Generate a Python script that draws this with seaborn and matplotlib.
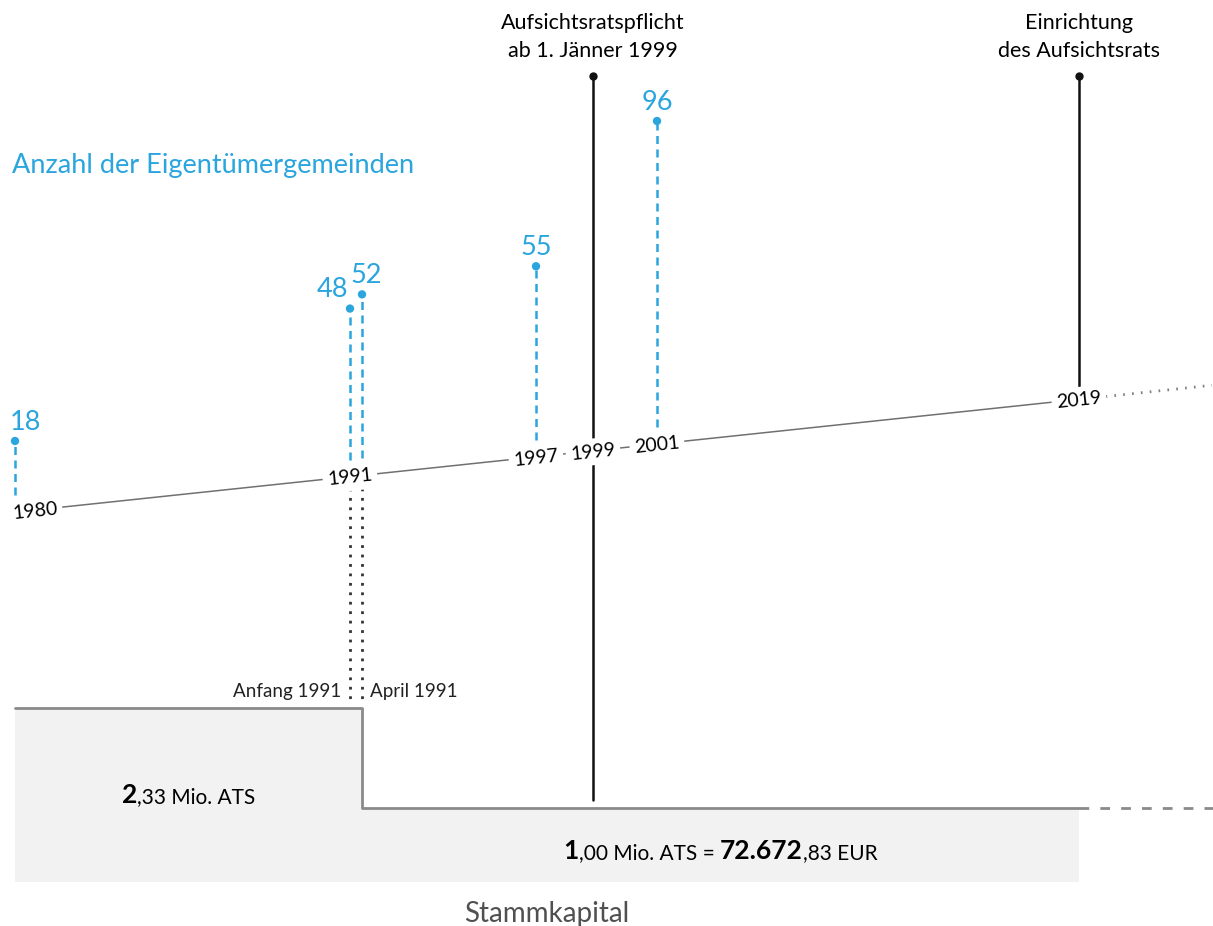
import numpy as np
import pandas as pd
import seaborn as sns
import matplotlib.pyplot as plt
from matplotlib import transforms
from matplotlib.offsetbox import TextArea, HPacker, AnnotationBbox

# --- data -------------------------------------------------------------
count_dates = [1980.0, 1991.0, 1991.25, 1997.0, 2001.0]   # Anfang / April 1991
count_values = [18, 48, 52, 55, 96]
timeline_years = [1980, 1991, 1997, 1999, 2001, 2019]
cap_dates = [1980.0, 1991.25, 2019.0]
cap_values = [2.33, 1.00, 1.00]          # Mio. ATS
event_dates = [1999.0, 2019.0]
event_labels = ["Aufsichtsratspflicht\nab 1. Jänner 1999", "Einrichtung\ndes Aufsichtsrats"]
cap_text_1 = [("2", True), (",33 Mio. ATS", False)]
cap_text_2 = [("1", True), (",00 Mio. ATS = ", False), ("72.672", True), (",83 EUR", False)]

# --- layout -----------------------------------------------------------
W, H = 1213, 926
BLUE = "#2aa5de"
GREY = "#8a8a8a"
# stretched time axis (years -> pixel column)
AY = [1979.3, 1980, 1991, 1991.25, 1997, 1999, 2001, 2019, 2023.4]
AX = [0, 15, 350, 362, 536, 593, 657, 1079, 1213]


def fwd(y):
    return np.interp(y, AY, AX)


def inv(p):
    return np.interp(p, AX, AY)


def line_px(x):
    # tilted time line, pixel row for pixel column
    return 510 - 0.106 * (x - 35)


def fy(px):
    return 1 - px / H


PX_PER_MIO = 74.5
PX_PER_COUNT = 3.23

sns.set_theme(style="white")
plt.rcParams["font.family"] = ["Lato", "DejaVu Sans"]

fig = plt.figure(figsize=(W / 100, H / 100), dpi=100)
ax = fig.add_axes([0, 0, 1, 1])
ax2 = ax.twinx()
bt = transforms.blended_transform_factory(ax.transData, ax.transAxes)

# --- Stammkapital -----------------------------------------------------
ax.fill_between(cap_dates, cap_values, step="post", color="#f2f2f2", lw=0, zorder=1)
sns.lineplot(x=cap_dates, y=cap_values, drawstyle="steps-post", estimator=None,
             sort=False, color=GREY, lw=2, ax=ax, zorder=2)
ax.plot([cap_dates[-1], AY[-1]], [cap_values[-1]] * 2, color=GREY, lw=2,
        ls=(0, (3.5, 4)), zorder=2)


def rich(parts, x, y):
    boxes = [TextArea(t, textprops=dict(size=19 if b else 15,
                                         fontweight="bold" if b else "normal",
                                         color="black")) for t, b in parts]
    pack = HPacker(children=boxes, align="baseline", pad=0, sep=0)
    ax.add_artist(AnnotationBbox(pack, (x, y), xycoords="data", frameon=False,
                                 box_alignment=(0.5, 0.5), zorder=5))


rich(cap_text_1, inv((fwd(cap_dates[0]) + fwd(cap_dates[1])) / 2), cap_values[0] / 2)
rich(cap_text_2, inv((fwd(cap_dates[1]) + fwd(cap_dates[2])) / 2), cap_values[1] / 2 - 0.08)
ax.annotate("Stammkapital", (inv((fwd(cap_dates[0]) + fwd(cap_dates[2])) / 2), 0),
            xytext=(0, -23), textcoords="offset points", ha="center", va="center",
            size=20, color="#505050")

# dotted markers for Anfang / April 1991
for d, lab, ha, dx in [(count_dates[1], "Anfang 1991", "right", -6),
                       (count_dates[2], "April 1991", "left", 6)]:
    ax.plot([d, d], [fy(488), fy(704)], transform=bt, color="#333333", lw=2,
            ls=(0, (1, 2.4)), zorder=3)
    ax.annotate(lab, (d, fy(691)), xycoords=bt, xytext=(dx, 0),
                textcoords="offset points", ha=ha, va="center", size=13.5,
                color="#222222")

# event lines
for d, lab, bottom in zip(event_dates, event_labels, [800, 386]):
    ax.plot([d, d], [fy(76), fy(bottom)], transform=bt, color="#111111", lw=1.8, zorder=3)
    ax.plot([d], [fy(76)], transform=bt, marker="o", ms=5, color="#111111", zorder=3)
    ax.text(d, fy(37), lab, transform=bt, ha="center", va="center", size=15.5,
            linespacing=1.45, color="black")

# --- time line and counts ---------------------------------------------
ax2.plot([35 / W, 1079 / W], [fy(line_px(35)), fy(line_px(1079))],
         transform=ax2.transAxes, color="#707070", lw=1.1, zorder=1)
ax2.plot([1079 / W, 1212 / W], [fy(line_px(1079)), fy(line_px(1212))],
         transform=ax2.transAxes, color="#808080", lw=2, ls=(0, (0.6, 2.6)), zorder=1)

ang = np.degrees(np.arctan(0.106))
for yr in timeline_years:
    x = max(fwd(yr), 35)
    ax2.text(x / W, fy(line_px(x) + 1), str(yr), transform=ax2.transAxes,
             rotation=ang, rotation_mode="anchor", ha="center", va="center",
             size=14, color="black", zorder=4,
             bbox=dict(boxstyle="square,pad=0.25", fc="white", ec="none"))

base = [(H - line_px(fwd(d))) / PX_PER_COUNT for d in count_dates]
df = pd.DataFrame({"date": count_dates, "count": count_values,
                   "bottom": [b + 17 / PX_PER_COUNT for b in base],
                   "top": [b + 13 / PX_PER_COUNT + c for b, c in zip(base, count_values)]})
ax2.vlines(df["date"], df["bottom"], df["top"], color=BLUE, lw=1.8,
           linestyles=(0, (3.2, 2.2)), zorder=2)
sns.scatterplot(data=df, x="date", y="top", color=BLUE, s=36, edgecolor="none",
                ax=ax2, zorder=3)
for d, c, t, ha, dx in zip(df["date"], df["count"], df["top"],
                           ["left", "right", "center", "center", "center"],
                           [-4, -1, 3, 0, 0]):
    ax2.annotate(f"{int(c)}", (d, t), xytext=(dx, 8), textcoords="offset points",
                 ha=ha, va="baseline", size=19.5, color=BLUE)

ax2.text(12 / W, fy(165), "Anzahl der Eigentümergemeinden", transform=ax2.transAxes,
         ha="left", va="center", size=19.5, color=BLUE)

# --- scales -----------------------------------------------------------
ax.set_xscale("function", functions=(fwd, inv))
ax.set_xlim(AY[0], AY[-1])
ax.set_ylim(-44 / PX_PER_MIO, (H - 44) / PX_PER_MIO)
ax2.set_ylim(0, H / PX_PER_COUNT)
ax.axis("off")
ax2.axis("off")

fig.savefig("out.png", dpi=100, facecolor="white")
